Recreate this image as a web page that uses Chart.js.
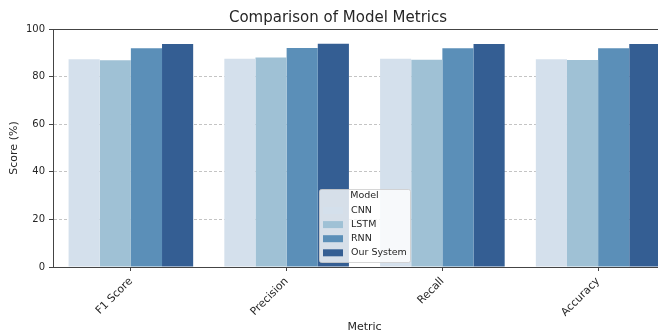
<!DOCTYPE html>
<html>
<head>
<meta charset="utf-8">
<script src="https://cdn.jsdelivr.net/npm/chart.js@4"></script>
<style>
  html, body { margin: 0; padding: 0; background: #fff; overflow: hidden; }
  canvas { display: block; }
</style>
</head>
<body>
<canvas id="chart" width="700" height="334"></canvas>
<script>
// categories and series
const metrics = ["F1 Score", "Precision", "Recall", "Accuracy"]
const models = ["CNN", "LSTM", "RNN", "Our System"]
const cnnScores = [87.3, 87.5, 87.5, 87.3]
const lstmScores = [86.9, 88.0, 87.1, 87.0]
const rnnScores = [91.9, 92.0, 91.9, 91.9]
const oursScores = [93.7, 93.8, 93.7, 93.7]
const yTicks = [0, 20, 40, 60, 80, 100]

const colors = ["#d4e0ec", "#9fc1d5", "#5b8fb8", "#345e93"]
const textColor = "#262626"
const font = "DejaVu Sans"

/* top spine and frame around the plot area */
const framePlugin = {
    id: "frame",
    afterDraw(chart) {
        const { ctx, chartArea: ca } = chart
        ctx.save()
        ctx.strokeStyle = "#444"
        ctx.lineWidth = 1
        ctx.strokeRect(Math.round(ca.left) + 0.5, Math.round(ca.top) + 0.5, ca.right - ca.left, ca.bottom - ca.top)
        ctx.restore()
    }
}

/* legend box, lower center, drawn over bars like matplotlib */
const legendPlugin = {
    id: "boxLegend",
    afterDraw(chart) {
        const { ctx, chartArea: ca } = chart
        const w = 91, h = 73
        const cx = (ca.left + ca.right) / 2
        const x = cx - w / 2
        const y = ca.bottom - 5 - h
        ctx.save()
        ctx.fillStyle = "rgba(255,255,255,0.8)"
        ctx.strokeStyle = "rgba(204,204,204,0.8)"
        ctx.lineWidth = 1
        ctx.beginPath()
        ctx.roundRect(x + 0.5, y + 0.5, w, h, 2)
        ctx.fill()
        ctx.stroke()

        ctx.font = "9.5px '" + font + "'"
        ctx.fillStyle = textColor
        ctx.textBaseline = "middle"
        ctx.textAlign = "center"
        ctx.fillText("Model", cx, y + 7)

        ctx.textAlign = "left"
        chart.data.datasets.forEach((ds, i) => {
            const rowY = y + 21.5 + i * 14.1
            ctx.fillStyle = ds.backgroundColor
            ctx.fillRect(x + 4, rowY - 3.5, 20, 7)
            ctx.fillStyle = textColor
            ctx.fillText(ds.label, x + 32, rowY)
        })
        ctx.restore()
    }
}

const seriesValues = [cnnScores, lstmScores, rnnScores, oursScores]

const data = {
    labels: metrics,
    datasets: models.map((name, i) => ({
        label: name,
        data: seriesValues[i],
        backgroundColor: colors[i],
        borderWidth: 0,
        barPercentage: 1.0,
        categoryPercentage: 0.8
    }))
}

const config = {
    type: "bar",
    data: data,
    plugins: [framePlugin, legendPlugin],
    options: {
        responsive: false,
        animation: false,
        layout: { padding: { left: 0, right: 24, top: 0, bottom: 0 } },
        plugins: {
            legend: { display: false },
            tooltip: { enabled: false },
            title: {
                display: true,
                text: "Comparison of Model Metrics",
                color: textColor,
                font: { family: font, size: 15, weight: "normal" },
                padding: { top: 9, bottom: 2 }
            }
        },
        scales: {
            x: {
                grid: {
                    offset: false,
                    drawOnChartArea: false,
                    drawTicks: true,
                    tickLength: 4,
                    tickColor: "#444"
                },
                border: { display: true, color: "#444", width: 1 },
                ticks: {
                    color: textColor,
                    font: { family: font, size: 10.8 },
                    minRotation: 45,
                    maxRotation: 45,
                    padding: 4
                },
                title: {
                    display: true,
                    text: "Metric",
                    color: textColor,
                    font: { family: font, size: 11 },
                    padding: { top: 0, bottom: 0 }
                },
                afterFit: (scale) => { scale.height = 67 }
            },
            y: {
                z: 1,
                min: 0,
                max: 100,
                afterBuildTicks: (scale) => { scale.ticks = yTicks.map(v => ({ value: v })) },
                grid: {
                    color: "rgba(176,176,176,0.75)",
                    lineWidth: 1,
                    drawTicks: true,
                    tickLength: 4,
                    tickColor: "#444",
                    tickBorderDash: []
                },
                border: { display: true, color: "#444", width: 1, dash: [3, 2] },
                ticks: {
                    color: textColor,
                    font: { family: font, size: 10 },
                    padding: 4
                },
                title: {
                    display: true,
                    text: "Score (%)",
                    color: textColor,
                    font: { family: font, size: 11 },
                    padding: { top: 8, bottom: 0 }
                },
                afterFit: (scale) => { scale.width = 53 }
            }
        }
    }
}

new Chart(document.querySelector("#chart"), config)
</script>
</body>
</html>
